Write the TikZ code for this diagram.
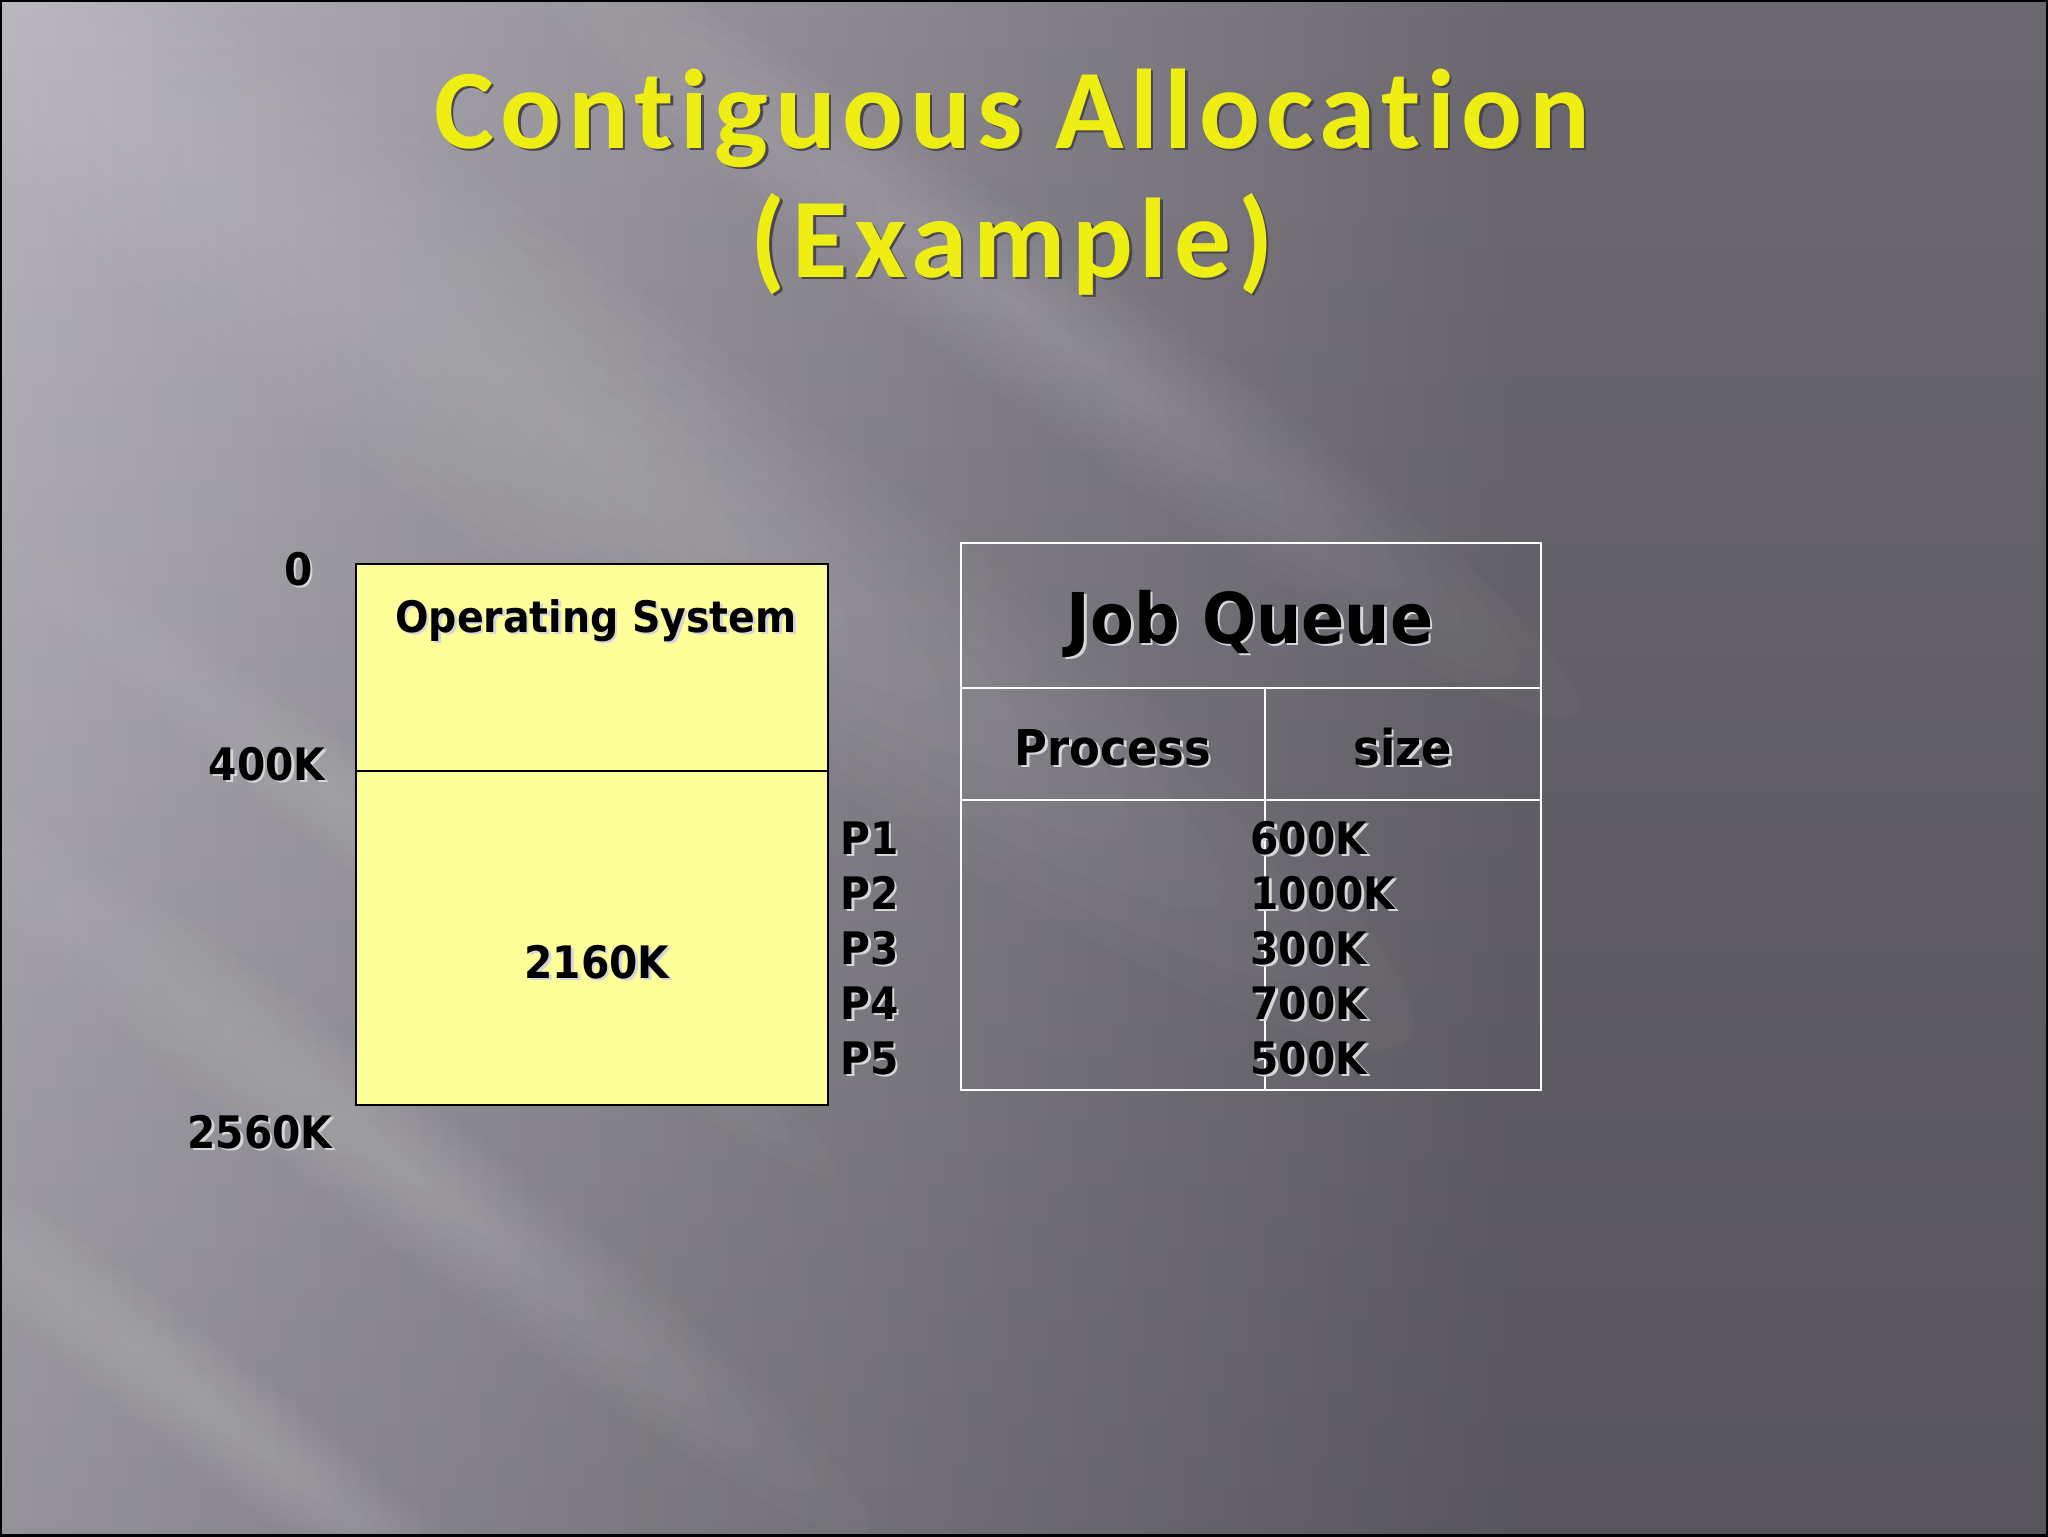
\documentclass[tikz,border=0pt]{standalone}
\usepackage{fontspec}
\setmainfont{DejaVu Sans}[FakeStretch=0.91]
\newfontfamily\titlefont{Carlito}[LetterSpace=5.8, Ligatures={NoCommon}]
\usetikzlibrary{positioning,fadings}

\definecolor{memfill}{HTML}{FFFF99}
\definecolor{titleyellow}{HTML}{EEEE12}
\definecolor{titleshadow}{HTML}{4A474E}
\definecolor{txtshadow}{HTML}{D6D5DA}
\definecolor{bgA}{HTML}{B6B3BB}
\definecolor{bgB}{HTML}{908D95}
\definecolor{bgC}{HTML}{6B6870}

\pgfdeclarehorizontalshading{slidebg}{100bp}{color(0bp)=(bgA); color(25bp)=(bgA);
  color(44bp)=(bgB); color(62bp)=(bgC); color(100bp)=(bgC)}
\tikzfading[name=fadetop, top color=transparent!100, bottom color=transparent!0]

\newcommand\pxu{0.0124cm}
\newcommand\shtxt[2][txtshadow]{\rlap{\kern0.9pt\raisebox{-0.9pt}{\color{#1}#2}}#2}

\tikzset{
  lbl/.style={inner sep=0pt, font=\bfseries\fontsize{15.8}{18}\selectfont},
  titletext/.style={inner sep=0pt, anchor=base, text=titleyellow,
    font=\titlefont\bfseries\fontsize{40}{44}\selectfont},
  membox/.style={draw=black, line width=0.75pt, fill=memfill, anchor=north west,
    minimum width=472*\pxu, inner sep=0pt},
  cell/.style={draw=white, line width=0.8pt, anchor=north west, inner sep=0pt},
  band/.style={white, opacity=0.018}
}

\begin{document}
\begin{tikzpicture}[x=\pxu, y=-\pxu]
  \useasboundingbox (0,0) rectangle (2048,1536);
  % background
  \begin{scope}
    \clip (0,0) rectangle (2048,1536);
    \shade[shading=slidebg] (0,0) rectangle (2048,1536);
    \fill[black, opacity=0.18, path fading=fadetop] (0,0) rectangle (2048,1536);
    \foreach \k in {1,...,9} {
      \fill[band, rotate around={-36:(560,420)}] (560,420) ellipse ({1050*\k/9} and {150*\k/9});
      \fill[band, rotate around={-38:(380,1150)}] (380,1150) ellipse ({620*\k/9} and {70*\k/9});
      \fill[band, rotate around={-38:(200,1400)}] (200,1400) ellipse ({500*\k/9} and {55*\k/9});
      \fill[band, rotate around={-37:(420,860)}] (420,860) ellipse ({520*\k/9} and {50*\k/9});
      \fill[band, rotate around={-36:(1050,330)}] (1050,330) ellipse ({650*\k/9} and {80*\k/9});
    }
  \end{scope}
  \draw[black, line width=1pt] (0.5,0.5) rectangle (2047.5,1535.5);

  % title
  \node[titletext] (T1) at (1012,148) {\shtxt[titleshadow]{Contiguous Allocation}};
  \node[titletext] (T2) at (1012,277) {\shtxt[titleshadow]{(Example)}};

  % memory
  \node[membox, minimum height=207*\pxu] (OS) at (355,563) {};
  \node[membox, minimum height=334*\pxu] (USR) at (355,770) {};
  \node[lbl, anchor=base, font=\bfseries\fontsize{15.3}{18}\selectfont] (OSL) at (596,632) {\shtxt{Operating System}};
  \node[lbl, anchor=base] (FREE) at (597,978) {\shtxt{2160K}};

  \node[lbl, anchor=base east] (A0) at (313,585) {\shtxt{0}};
  \node[lbl, anchor=base east] (A400) at (326,780) {\shtxt{400K}};
  \node[lbl, anchor=base east] (A2560) at (333,1148) {\shtxt{2560K}};

  % job queue
  \node[cell, minimum width=580*\pxu, minimum height=145*\pxu] (JQ) at (960,542) {};
  \node[cell, minimum width=304*\pxu, minimum height=112*\pxu] (PRC) at (960,687) {};
  \node[cell, minimum width=276*\pxu, minimum height=112*\pxu] (SZC) at (1264,687) {};
  \node[cell, minimum width=304*\pxu, minimum height=290*\pxu] (PRL) at (960,799) {};
  \node[cell, minimum width=276*\pxu, minimum height=290*\pxu] (SZL) at (1264,799) {};

  \node[lbl, anchor=base, font=\bfseries\fontsize{24.7}{28}\selectfont] (JQL) at (1250,643) {\shtxt{Job Queue}};
  \node[lbl, anchor=base, font=\bfseries\fontsize{17.4}{20}\selectfont] (PRT) at (1113,765) {\shtxt{Process}};
  \node[lbl, anchor=base, font=\bfseries\fontsize{17.4}{20}\selectfont] (SZT) at (1403,765) {\shtxt{size}};

  \foreach \p/\s [count=\i] in {P1/600K, P2/1000K, P3/300K, P4/700K, P5/500K} {
    \node[lbl, anchor=base west] (\p) at (840,799+55*\i) {\shtxt{\p}};
    \node[lbl, anchor=base west] (S\i) at (1250,799+55*\i) {\shtxt{\s}};
  }
\end{tikzpicture}
\end{document}
